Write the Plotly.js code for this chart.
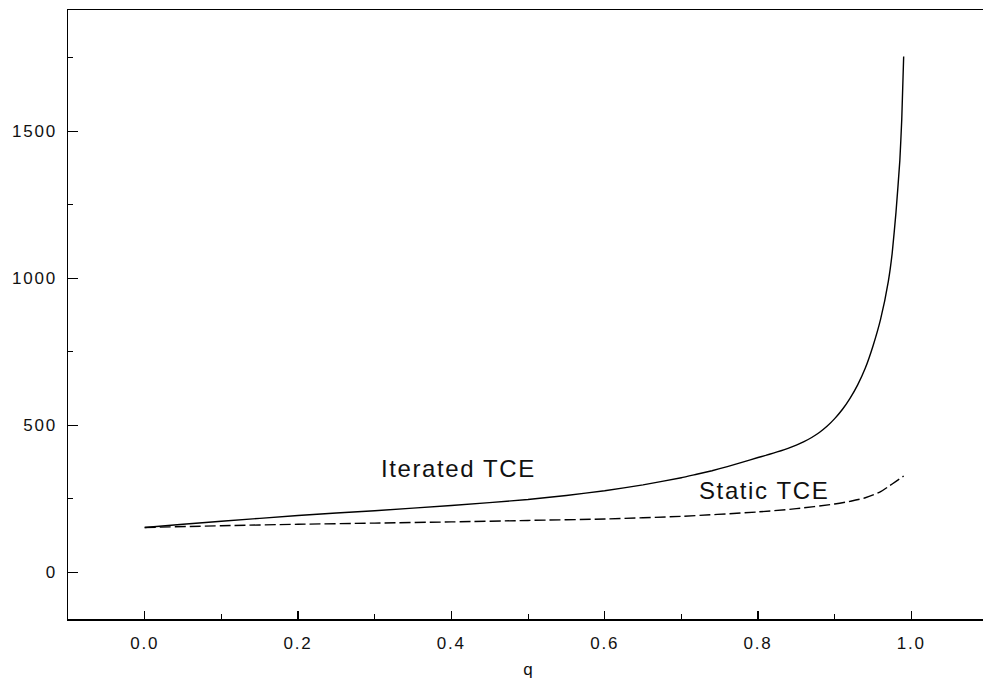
<!DOCTYPE html>
<html>
<head>
<meta charset="utf-8">
<script src="https://cdn.plot.ly/plotly-3.0.1.min.js"></script>
<style>
  html, body { margin: 0; padding: 0; overflow: hidden; background: #fff; }
  #chart { width: 988px; height: 684px; }
  .xtick text, .ytick text { letter-spacing: 1.8px; }
  .annotation-text { letter-spacing: 1.6px; }
</style>
</head>
<body>
<div id="chart"></div>
<script>
// q grid and read-off values
const qIter = [0, 0.05, 0.1, 0.2, 0.3, 0.4, 0.5, 0.55, 0.6, 0.65, 0.7, 0.72, 0.74, 0.76, 0.78, 0.8, 0.81, 0.82, 0.83, 0.84, 0.85, 0.86, 0.87, 0.88, 0.89, 0.9, 0.91, 0.92, 0.93, 0.94, 0.95, 0.96, 0.97, 0.975, 0.98, 0.985, 0.9875, 0.99];
const iteratedTCE = [153, 164, 174, 194, 210, 228, 248, 262, 278, 298, 322, 334, 346, 360, 375, 391, 398, 406, 414, 423, 433, 445, 459, 476, 497, 523, 554, 592, 638, 695, 770, 862, 990, 1085, 1225, 1400, 1540, 1754];

const qStatic = [0, 0.1, 0.2, 0.3, 0.4, 0.5, 0.6, 0.7, 0.8, 0.85, 0.9, 0.92, 0.94, 0.96, 0.97, 0.98, 0.99];
const staticTCE = [153, 159, 164, 168, 172, 177, 182, 191, 206, 217, 233, 242, 254, 275, 292, 310, 328];

const labels = ["Iterated TCE", "Static TCE"];
const labelPos = [[0.409, 355], [0.808, 280]];

const traces = [
  { x: qIter, y: iteratedTCE, type: 'scatter', mode: 'lines', name: labels[0],
    line: { color: '#000', width: 1.4, shape: 'spline', smoothing: 0.4 } },
  { x: qStatic, y: staticTCE, type: 'scatter', mode: 'lines', name: labels[1],
    line: { color: '#000', width: 1.4, dash: '11px,4px', shape: 'spline', smoothing: 0.8 } }
];

const tickFont = { family: 'Liberation Sans, Arial, sans-serif', size: 17, color: '#111' };

const layout = {
  width: 988, height: 684,
  margin: { l: 68, r: 0, t: 10, b: 65 },
  paper_bgcolor: '#fff', plot_bgcolor: '#fff',
  showlegend: false,
  xaxis: {
    range: [-0.1, 1.1], dtick: 0.2, tick0: 0, tickformat: '.1f',
    ticks: 'inside', ticklen: 8, tickwidth: 1.2, tickcolor: '#000',
    minor: { dtick: 0.1, tick0: 0, ticks: 'inside', ticklen: 5, tickwidth: 1, tickcolor: '#000', showgrid: false },
    showline: true, linecolor: '#000', linewidth: 1.5, mirror: true,
    showgrid: false, zeroline: false,
    tickfont: tickFont, ticklabelstandoff: 8,
    title: { text: 'q', font: { family: 'Liberation Sans, Arial, sans-serif', size: 17, color: '#111' }, standoff: 11 }
  },
  yaxis: {
    range: [-158, 1912], dtick: 500, tick0: 0,
    ticks: 'inside', ticklen: 10, tickwidth: 1.2, tickcolor: '#000',
    minor: { dtick: 250, tick0: 0, ticks: 'inside', ticklen: 5, tickwidth: 1, tickcolor: '#000', showgrid: false },
    showline: true, linecolor: '#000', linewidth: 1.5, mirror: false,
    showgrid: false, zeroline: false,
    tickfont: tickFont, ticklabelstandoff: 6
  },
  annotations: labels.map((t, i) => ({
    x: labelPos[i][0], y: labelPos[i][1], xref: 'x', yref: 'y',
    text: t, showarrow: false,
    font: { family: 'Liberation Sans, Arial, sans-serif', size: 24, color: '#111' }
  }))
};

Plotly.newPlot('chart', traces, layout, { displayModeBar: false, staticPlot: true });
</script>
</body>
</html>
